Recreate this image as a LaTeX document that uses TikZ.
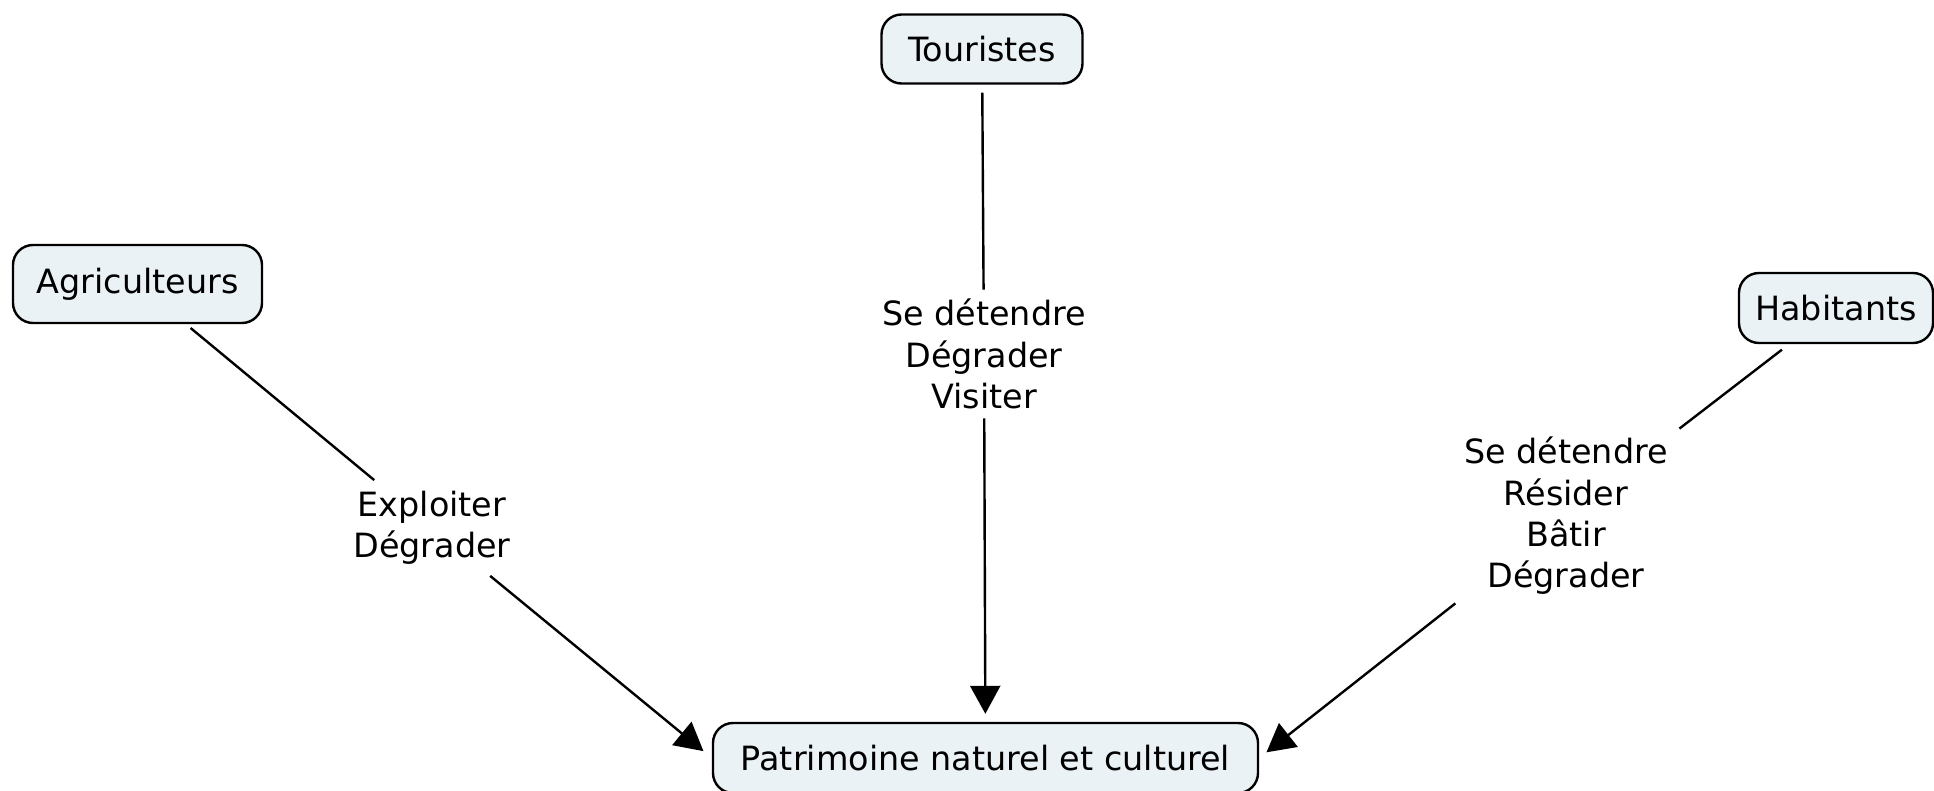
\documentclass[tikz,border=0pt]{standalone}
\usepackage{fontspec}
\setmainfont{DejaVu Sans}
\usetikzlibrary{arrows.meta}
\definecolor{boxfill}{HTML}{EBF2F5}
\begin{document}
\begin{tikzpicture}[x=0.5pt,y=-0.5pt,
  concept/.style={draw=black, line width=1.2pt, fill=boxfill, rounded corners=10pt, inner sep=0pt, font=\fontsize{16.7pt}{20.65pt}\selectfont},
  linklabel/.style={inner sep=0pt, align=center, font=\fontsize{16.7pt}{20.65pt}\selectfont},
  link/.style={line width=1.2pt},
  arrowlink/.style={link, -{Triangle[length=14pt,width=15pt]}}
]
\useasboundingbox (0,0) rectangle (1934,791);

\node[concept, minimum width=100.5pt, minimum height=34.5pt] (tour) at (982,49) {Touristes};
\node[concept, minimum width=124.5pt, minimum height=39pt] (agri) at (137.5,284) {Agriculteurs};
\node[concept, minimum width=97pt, minimum height=35pt] (hab) at (1836,308) {Habitants};
\node[concept, minimum width=272.5pt, minimum height=35pt] (pat) at (985.5,758) {Patrimoine naturel et culturel};

\node[linklabel, minimum height=64pt] (tourlab) at (984,354) {Se détendre\\Dégrader\\Visiter};
\node[linklabel, minimum height=47.5pt] (agrilab) at (432,528) {Exploiter\\Dégrader};
\node[linklabel, minimum height=87pt, minimum width=130pt] (hablab) at (1566,516) {Se détendre\\Résider\\Bâtir\\Dégrader};

\draw[link, shorten <=4pt] (tour) -- (tourlab);
\draw[arrowlink, shorten >=4pt] (tourlab) -- (pat);
\draw[link, shorten <=3pt] (agri) -- (agrilab);
\draw[arrowlink, shorten >=5.4pt] (agrilab) -- (pat.west);
\draw[link, shorten <=4.5pt] (hab) -- (hablab);
\draw[arrowlink, shorten >=4.6pt] (hablab) -- (pat.east);
\end{tikzpicture}
\end{document}
